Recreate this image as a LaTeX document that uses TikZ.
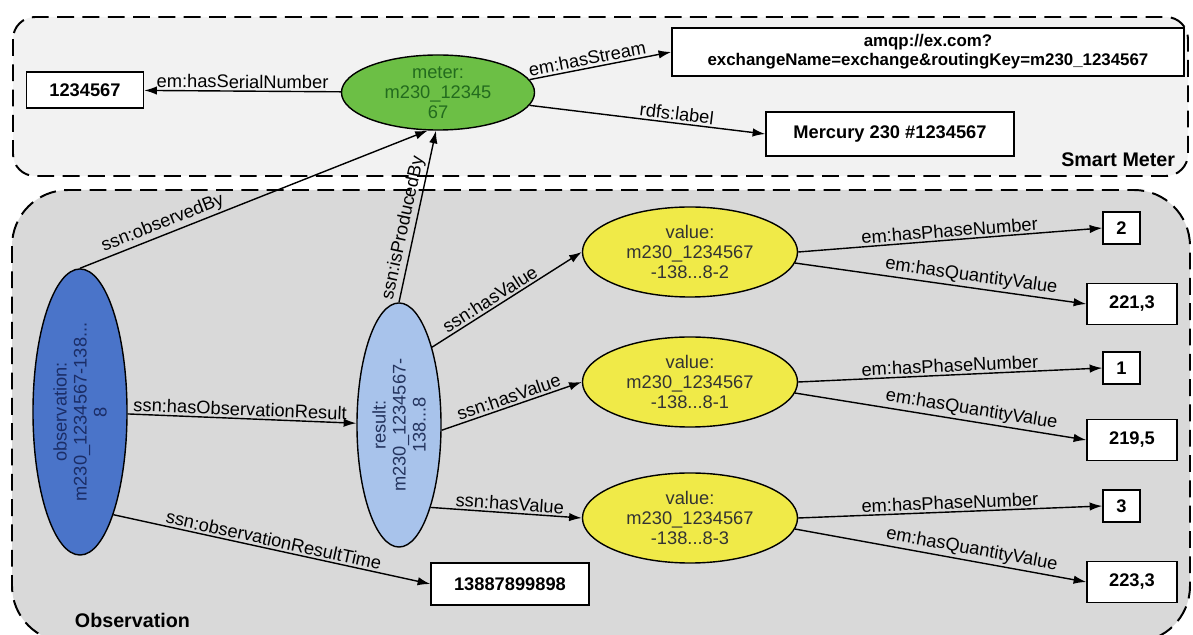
\documentclass[tikz,border=0pt]{standalone}
\usepackage{fontspec}
\setmainfont{Liberation Sans}
\usetikzlibrary{shapes.geometric,arrows.meta}

\definecolor{meterbg}{HTML}{F2F2F2}
\definecolor{obsbg}{HTML}{D9D9D9}
\definecolor{metergreen}{HTML}{6CBF45}
\definecolor{metertext}{HTML}{236B1E}
\definecolor{obsblue}{HTML}{4A74C9}
\definecolor{obstext}{HTML}{1B2D66}
\definecolor{resblue}{HTML}{A8C3EB}
\definecolor{restext}{HTML}{24345E}
\definecolor{valyellow}{HTML}{F0EA48}

\tikzset{
  lit/.style={draw,line width=1pt,fill=white,font=\fontsize{13}{14.2}\selectfont\bfseries,inner sep=0pt,align=center},
  res/.style={ellipse,draw,line width=1pt,inner sep=0pt,align=center},
  valnode/.style={res,fill=valyellow,text=black!80,minimum width=5.375cm,minimum height=2.25cm},
  phase/.style={lit,minimum width=0.925cm,minimum height=0.8cm},
  qty/.style={lit,minimum width=2.25cm,minimum height=1.025cm},
  rel/.style={-{Latex[length=9pt,width=6pt]},line width=1pt},
  lbl/.style={above,sloped,inner sep=1.5pt},
  group/.style={line width=1.4pt,dash pattern=on 12pt off 6pt}
}

\begin{document}
\begin{tikzpicture}[x=0.025cm,y=-0.025cm,font=\fontsize{13}{14.2}\selectfont]
\clip (0,0) rectangle (1193,635);
% groups
\draw[group,fill=meterbg,rounded corners=0.55cm] (13,17) rectangle (1188,176);
\draw[group,fill=obsbg,rounded corners=1.4cm] (12,190) rectangle (1190,642);
\node[font=\fontsize{14}{16}\selectfont\bfseries,anchor=east] (smlbl) at (1180,160) {Smart Meter};
\node[font=\fontsize{14}{16}\selectfont\bfseries,anchor=west] (obslbl) at (70,620) {Observation};
% smart meter
\node[res,fill=metergreen,text=metertext,minimum width=4.825cm,minimum height=1.875cm] (meter) at (438,92.5) {meter:\\m230\_12345\\67};
\node[lit,minimum width=2.925cm,minimum height=0.9cm] (serial) at (85,90) {1234567};
\node[lit,minimum width=12.8cm,minimum height=1.2cm,font=\fontsize{12}{13.5}\selectfont\bfseries] (stream) at (928,52) {amqp://ex.com?\\exchangeName=exchange\&routingKey=m230\_1234567};
\node[lit,minimum width=6.2cm,minimum height=1.1cm] (label) at (890,134) {Mercury 230 \#1234567};
% observation
\node[res,rotate=90,fill=obsblue,text=obstext,minimum width=7.15cm,minimum height=2.35cm] (obs) at (80,412) {observation:\\m230\_1234567-138...\\8};
\node[res,rotate=90,fill=resblue,text=restext,minimum width=6.1cm,minimum height=2.1cm] (result) at (399,425) {result:\\m230\_1234567-\\138...8};
\node[lit,minimum width=3.95cm,minimum height=1.05cm] (time) at (510,584) {13887899898};
\node[valnode] (val2) at (690,252) {value:\\m230\_1234567\\-138...8-2};
\node[valnode] (val1) at (690,382) {value:\\m230\_1234567\\-138...8-1};
\node[valnode] (val3) at (690,518) {value:\\m230\_1234567\\-138...8-3};
\node[phase] (ph2) at (1121.5,228) {2};
\node[phase] (ph1) at (1121.5,368) {1};
\node[phase] (ph3) at (1121.5,506) {3};
\node[qty] (q2) at (1132,304) {221,3};
\node[qty] (q1) at (1132,440) {219,5};
\node[qty] (q3) at (1132,582) {223,3};
% connectors
\draw[rel] (meter) -- (serial) node[lbl,midway]{em:hasSerialNumber};
\draw[rel] (meter.8) -- (stream.west) node[lbl,pos=0.42]{em:hasStream};
\draw[rel] (meter.352) -- (label.west) node[lbl,pos=0.62]{rdfs:label};
\draw[rel] (obs.east) -- (meter.255) node[lbl,pos=0.25]{ssn:observedBy};
\draw[rel] (result.east) -- (meter.267) node[lbl,pos=0.42]{ssn:isProducedBy};
\draw[rel] (obs) -- (result) node[lbl,pos=0.49]{ssn:hasObservationResult};
\draw[rel] (obs.198) -- (time.west) node[lbl,midway]{ssn:observationResultTime};
\draw[rel] (result.337) -- (val2.west) node[lbl,pos=0.42]{ssn:hasValue};
\draw[rel] (result.263) -- (val1.west) node[lbl,pos=0.5]{ssn:hasValue};
\draw[rel] (result.201) -- (val3.west) node[lbl,pos=0.52]{ssn:hasValue};
\foreach \v in {1,2,3}{
  \draw[rel] (val\v.east) -- (ph\v.west) node[lbl,midway]{em:hasPhaseNumber};
  \draw[rel] (val\v.354) -- (q\v.west) node[lbl,pos=0.6]{em:hasQuantityValue};
}
\end{tikzpicture}
\end{document}
